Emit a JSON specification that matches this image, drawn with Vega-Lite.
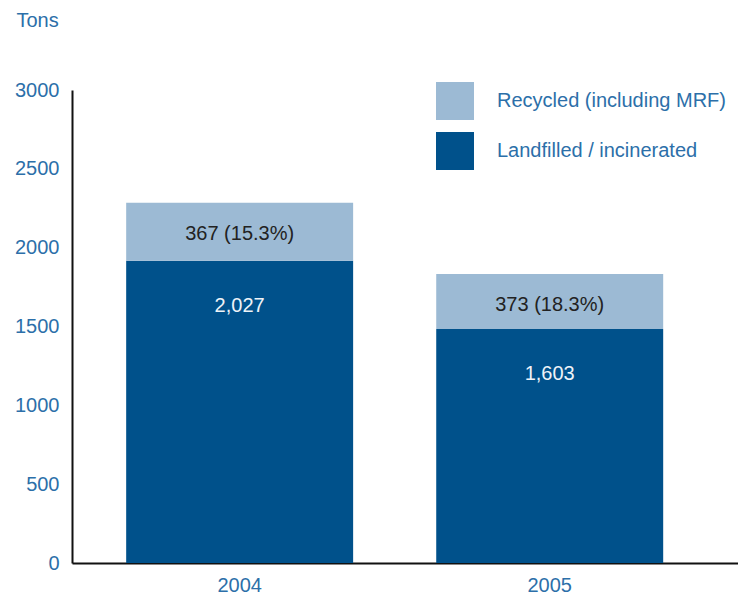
{
  "$schema": "https://vega.github.io/schema/vega-lite/v6.json",
  "width": 666,
  "height": 473,
  "autosize": {"type": "none"},
  "padding": {"left": 72, "top": 90, "right": 0, "bottom": 36},
  "background": "white",
  "config": {
    "font": "Liberation Sans",
    "view": {"stroke": null}
  },
  "data": {
    "values": [
      {"year": "2004", "category": "Landfilled / incinerated", "tons": 1917, "label": "2,027"},
      {"year": "2004", "category": "Recycled (including MRF)", "tons": 368, "label": "367 (15.3%)"},
      {"year": "2005", "category": "Landfilled / incinerated", "tons": 1484, "label": "1,603"},
      {"year": "2005", "category": "Recycled (including MRF)", "tons": 349, "label": "373 (18.3%)"}
    ]
  },
  "transform": [
    {"stack": "tons", "groupby": ["year"], "as": ["t0", "t1"], "sort": [{"field": "category", "order": "ascending"}]}
  ],
  "encoding": {
    "x": {
      "field": "year", "type": "nominal",
      "scale": {"paddingInner": 0.268, "paddingOuter": 0.208, "align": 0.42},
      "axis": {
        "title": null, "labelAngle": 0, "ticks": false,
        "domainColor": "#111111", "domainWidth": 2,
        "labelFont": "Liberation Sans", "labelFontSize": 20, "labelColor": "#2c6fa9",
        "labelPadding": 12
      }
    }
  },
  "layer": [
    {
      "mark": {"type": "bar"},
      "encoding": {
        "y": {
          "field": "t0", "type": "quantitative",
          "scale": {"domain": [0, 3000], "nice": false},
          "axis": {
            "values": [0, 500, 1000, 1500, 2000, 2500, 3000],
            "format": "d",
            "grid": false, "ticks": false,
            "domainColor": "#111111", "domainWidth": 2,
            "labelFont": "Liberation Sans", "labelFontSize": 20, "labelColor": "#2c6fa9",
            "labelPadding": 13,
            "title": "Tons", "titleAngle": 0, "titleX": -56, "titleY": -70,
            "titleAlign": "left", "titleBaseline": "middle",
            "titleFont": "Liberation Sans", "titleFontSize": 20, "titleFontWeight": "normal", "titleColor": "#2c6fa9"
          }
        },
        "y2": {"field": "t1"},
        "color": {
          "field": "category", "type": "nominal",
          "scale": {
            "domain": ["Recycled (including MRF)", "Landfilled / incinerated"],
            "range": ["#9cbad4", "#00518b"]
          },
          "legend": {
            "title": null, "orient": "none", "legendX": 364, "legendY": -8,
            "symbolType": "square", "symbolSize": 1444, "symbolStrokeWidth": 0, "symbolOpacity": 1,
            "labelFont": "Liberation Sans", "labelFontSize": 20, "labelColor": "#2c6fa9",
            "labelOffset": 23, "rowPadding": 12, "labelLimit": 400
          }
        }
      }
    },
    {
      "transform": [{"filter": "datum.category === 'Recycled (including MRF)'"}],
      "mark": {"type": "text", "dy": 31, "baseline": "middle", "align": "center", "fontSize": 20, "font": "Liberation Sans", "color": "#222222"},
      "encoding": {
        "y": {"field": "t1", "type": "quantitative"},
        "text": {"field": "label"}
      }
    },
    {
      "transform": [{"filter": "datum.category === 'Landfilled / incinerated'"}],
      "mark": {"type": "text", "dy": 45, "baseline": "middle", "align": "center", "fontSize": 20, "font": "Liberation Sans", "color": "#eef3f8"},
      "encoding": {
        "y": {"field": "t1", "type": "quantitative"},
        "text": {"field": "label"}
      }
    }
  ]
}
